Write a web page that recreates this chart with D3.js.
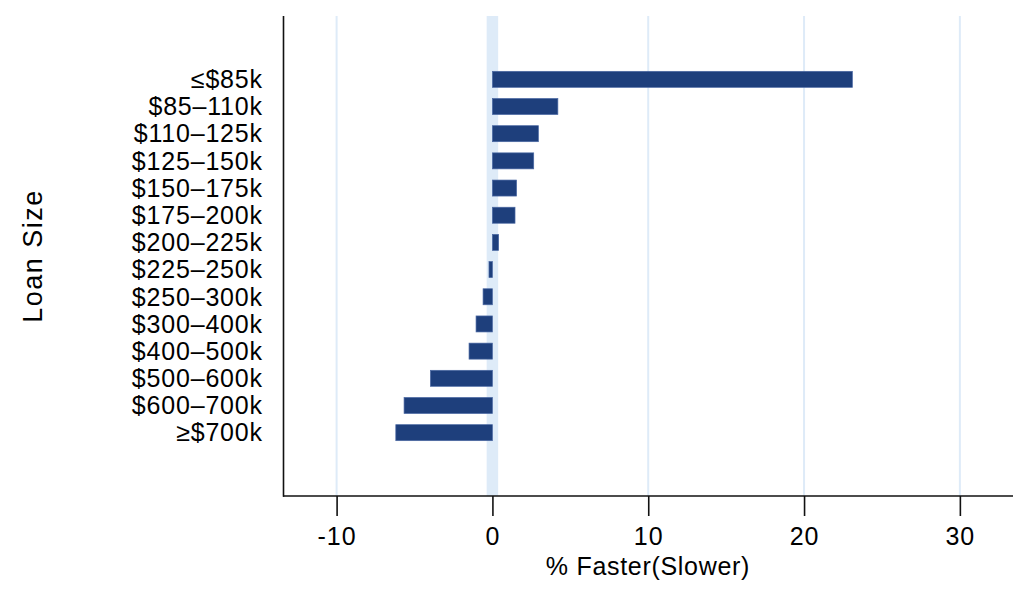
<!DOCTYPE html>
<html>
<head>
<meta charset="utf-8">
<script src="https://cdn.jsdelivr.net/npm/d3@7"></script>
<style>
  body { margin: 0; background: #fff; }
  #container { width: 1024px; height: 605px; }
</style>
</head>
<body>
<div id="container"></div>
<script>
// Loan size buckets, top to bottom
const categories = ["≤$85k", "$85–110k", "$110–125k", "$125–150k", "$150–175k", "$175–200k",
  "$200–225k", "$225–250k", "$250–300k", "$300–400k", "$400–500k", "$500–600k", "$600–700k", "≥$700k"];
// % faster (slower)
const values = [23.1, 4.2, 2.95, 2.65, 1.55, 1.45, 0.4, -0.22, -0.6, -1.05, -1.5, -3.98, -5.67, -6.2];
const xTicks = [-10, 0, 10, 20, 30];
const xDomain = [-13.44, 33.41];

const width = 1024;
const height = 605;
const margin = {top: 16, right: 11, bottom: 109, left: 283};

const font = "Arial, 'Liberation Sans', Helvetica, sans-serif";
const barColor = "#1e3f7c";
const gridColor = "#deebf8";

const svg = d3
  .create("svg")
  .attr("width", width)
  .attr("height", height)
  .attr("viewBox", [0, 0, width, height])
  .style("font-family", font);

const x = d3.scaleLinear()
  .domain(xDomain)
  .range([margin.left, width - margin.right]);

const y = d3.scalePoint()
  .domain(categories)
  .range([margin.top, height - margin.bottom])
  .padding(2.33);

const barH = 16;
const plotBottom = height - margin.bottom;

// light grid lines
svg.append("g")
  .selectAll("line")
  .data(xTicks.filter((d) => d !== 0))
  .join("line")
  .attr("x1", (d) => x(d))
  .attr("x2", (d) => x(d))
  .attr("y1", margin.top)
  .attr("y2", plotBottom)
  .attr("stroke", gridColor)
  .attr("stroke-width", 2);

// wide band at zero
svg.append("line")
  .attr("x1", x(0))
  .attr("x2", x(0))
  .attr("y1", margin.top)
  .attr("y2", plotBottom)
  .attr("stroke", gridColor)
  .attr("stroke-width", 11.5);

// bars
svg.append("g")
  .selectAll("rect")
  .data(values)
  .join("rect")
  .attr("x", (d) => x(Math.min(0, d)))
  .attr("y", (d, i) => y(categories[i]) - barH / 2)
  .attr("width", (d) => Math.abs(x(d) - x(0)))
  .attr("height", barH)
  .attr("fill", barColor)
  .attr("stroke", "#4a68a3")
  .attr("stroke-width", 0.7);

// category labels
svg.append("g")
  .attr("text-anchor", "end")
  .selectAll("text")
  .data(categories)
  .join("text")
  .attr("x", 262.8)
  .attr("y", (d) => y(d) + 8.8)
  .attr("font-size", 25)
  .attr("letter-spacing", 0.8)
  .attr("fill", "#000")
  .text((d) => d);

// x axis
const xAxis = svg.append("g")
  .attr("transform", `translate(0,${plotBottom})`)
  .call(d3.axisBottom(x).tickValues(xTicks).tickSize(20).tickPadding(0).tickFormat((d) => d));

xAxis.select(".domain")
  .attr("d", `M${margin.left},0H${width - margin.right}`)
  .attr("stroke", "#111")
  .attr("stroke-width", 1.6);

xAxis.selectAll(".tick line")
  .attr("stroke", "#111")
  .attr("stroke-width", 1.6);

xAxis.selectAll(".tick text")
  .attr("y", 49)
  .attr("dy", null)
  .attr("font-family", font)
  .attr("font-size", 25)
  .attr("letter-spacing", 1)
  .attr("fill", "#000");

// y axis line
svg.append("line")
  .attr("x1", margin.left + 0.5)
  .attr("x2", margin.left + 0.5)
  .attr("y1", margin.top)
  .attr("y2", plotBottom + 0.8)
  .attr("stroke", "#111")
  .attr("stroke-width", 1.6);

// axis titles
svg.append("text")
  .attr("x", (margin.left + width - margin.right) / 2)
  .attr("y", 575)
  .attr("text-anchor", "middle")
  .attr("font-size", 25)
  .attr("letter-spacing", 0.7)
  .text("% Faster(Slower)");

svg.append("text")
  .attr("transform", `translate(42,${(margin.top + plotBottom) / 2}) rotate(-90)`)
  .attr("text-anchor", "middle")
  .attr("font-size", 27)
  .attr("letter-spacing", 1.5)
  .text("Loan Size");

document.querySelector("#container").append(svg.node());
</script>
</body>
</html>
